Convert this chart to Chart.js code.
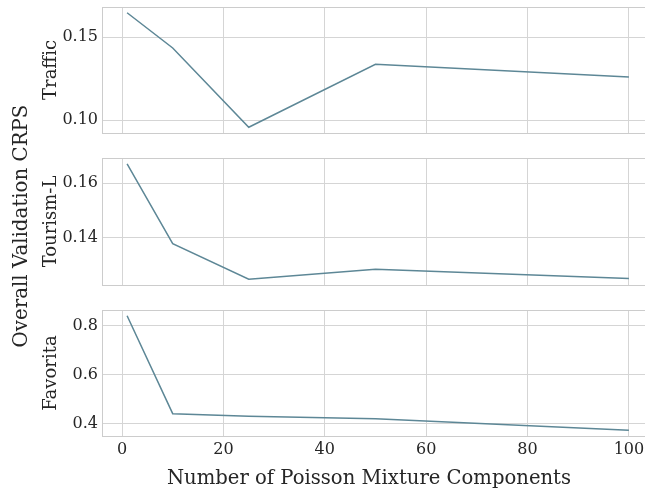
<!DOCTYPE html>
<html>
<head>
<meta charset="utf-8">
<script src="https://cdn.jsdelivr.net/npm/chart.js@4/dist/chart.umd.min.js"></script>
<style>
  html, body { margin: 0; padding: 0; background: #ffffff; overflow: hidden; }
  #wrap { position: fixed; left: 0; top: 0; width: 645px; height: 491px; overflow: hidden; background: #ffffff; }
  canvas { position: absolute; left: 0; top: 0; }
</style>
</head>
<body>
<div id="wrap">
<canvas id="c0" width="740" height="491"></canvas>
<canvas id="c1" width="660" height="491"></canvas>
<canvas id="c2" width="660" height="491"></canvas>
<canvas id="c3" width="660" height="491"></canvas>
</div>
<script>
// ---- data ----
const components = [1, 10, 25, 50, 100];
const trafficCRPS = [0.1646, 0.1434, 0.0958, 0.1336, 0.1260];
const tourismCRPS = [0.1671, 0.1378, 0.1247, 0.1284, 0.1250];
const favoritaCRPS = [0.840, 0.4415, 0.4306, 0.4206, 0.374];
const xTicks = [0, 20, 40, 60, 80, 100];
const trafficTicks = [0.10, 0.15];
const tourismTicks = [0.14, 0.16];
const favoritaTicks = [0.4, 0.6, 0.8];
const panelNames = ['Traffic', 'Tourism-L', 'Favorita'];
const xTitle = 'Number of Poisson Mixture Components';
const yTitle = 'Overall Validation CRPS';

// ---- style ----
const FONT = "'DejaVu Serif', serif";
const TEXT = '#262626';
const GRID = '#d5d5d5';
const SPINE = '#cccccc';
const LINE = '#5d8796';

Chart.defaults.font.family = FONT;
Chart.defaults.color = TEXT;

const framePlugin = {
  id: 'frame',
  afterDraw(chart) {
    const a = chart.chartArea, ctx = chart.ctx;
    ctx.save();
    ctx.strokeStyle = SPINE;
    ctx.lineWidth = 1;
    ctx.strokeRect(Math.round(a.left) + 0.5, Math.round(a.top) + 0.5,
                   Math.round(a.right - a.left), Math.round(a.bottom - a.top));
    ctx.restore();
  }
};

function margins(vals, frac) {
  const lo = Math.min(...vals), hi = Math.max(...vals);
  const r = hi - lo;
  return [lo - r * frac, hi + r * frac];
}
const xr = margins(components, 0.05);

function makePanel(id, values, ticks, decimals, name, opts) {
  const yr = margins(values, 0.05);
  return new Chart(document.getElementById(id), {
    type: 'line',
    data: {
      datasets: [{
        data: components.map((c, i) => ({ x: c, y: values[i] })),
        borderColor: LINE,
        borderWidth: 1.5,
        pointRadius: 0,
        tension: 0,
        fill: false
      }]
    },
    options: {
      responsive: false,
      animation: false,
      devicePixelRatio: 1,
      layout: { padding: { left: 0, right: 6, top: opts.top, bottom: opts.bottom } },
      plugins: { legend: { display: false }, tooltip: { enabled: false } },
      scales: {
        x: {
          type: 'linear',
          min: xr[0], max: xr[1],
          afterBuildTicks: s => { s.ticks = xTicks.map(v => ({ value: v })); },
          grid: { color: GRID, lineWidth: 1, drawTicks: false },
          border: { display: false },
          ticks: {
            display: opts.showX,
            padding: 4,
            font: { size: 16 },
            color: TEXT,
            callback: v => String(v)
          },
          afterFit: s => {
            s.height = opts.showX ? 25 : 0;
            s.paddingLeft = 0; s.paddingRight = 0;
          }
        },
        y: {
          type: 'linear',
          min: yr[0], max: yr[1],
          afterBuildTicks: s => { s.ticks = ticks.map(v => ({ value: v })); },
          grid: { color: GRID, lineWidth: 1, drawTicks: false },
          border: { display: false },
          ticks: {
            padding: 4,
            font: { size: 16 },
            color: TEXT,
            callback: v => Number(v).toFixed(decimals)
          },
          title: {
            display: true,
            text: name,
            font: { size: 18 },
            color: TEXT,
            padding: { top: 41, bottom: 0 }
          },
          afterFit: s => {
            s.width = 102;
            s.paddingTop = 0; s.paddingBottom = 0;
          }
        }
      }
    },
    plugins: [framePlugin]
  });
}

// shared axis titles for the whole stack of panels
new Chart(document.getElementById('c0'), {
  type: 'line',
  data: { datasets: [] },
  options: {
    responsive: false,
    animation: false,
    devicePixelRatio: 1,
    layout: { padding: { left: 0, right: 42, top: 6, bottom: 0 } },
    plugins: { legend: { display: false }, tooltip: { enabled: false } },
    scales: {
      x: {
        type: 'linear',
        min: 0, max: 1,
        grid: { display: false },
        border: { display: false },
        ticks: { display: false },
        title: {
          display: true,
          text: xTitle,
          font: { size: 19.6 },
          color: TEXT,
          padding: { top: 0, bottom: 0 }
        },
        afterFit: s => { s.height = 45; s.paddingLeft = 0; s.paddingRight = 0; }
      },
      y: {
        type: 'linear',
        min: 0, max: 1,
        grid: { display: false },
        border: { display: false },
        ticks: { display: false },
        title: {
          display: true,
          text: yTitle,
          font: { size: 19.8 },
          color: TEXT,
          padding: { top: 10, bottom: 0 }
        },
        afterFit: s => { s.width = 40; s.paddingTop = 0; s.paddingBottom = 0; }
      }
    }
  }
});

makePanel('c1', trafficCRPS, trafficTicks, 2, panelNames[0], { top: 7, bottom: 358, showX: false });
makePanel('c2', tourismCRPS, tourismTicks, 2, panelNames[1], { top: 158, bottom: 206, showX: false });
makePanel('c3', favoritaCRPS, favoritaTicks, 1, panelNames[2], { top: 310, bottom: 30, showX: true });
</script>
</body>
</html>
